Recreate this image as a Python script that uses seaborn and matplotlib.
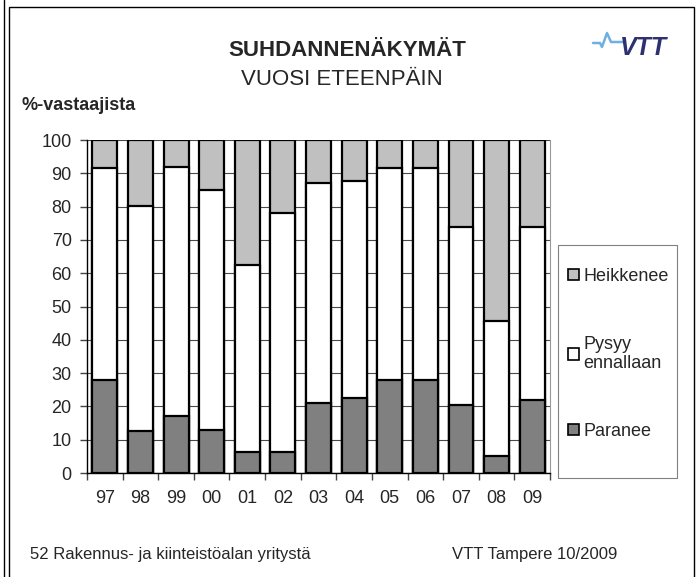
import matplotlib
matplotlib.use("Agg")
import matplotlib.pyplot as plt
from matplotlib.patches import Patch, Rectangle
from matplotlib.lines import Line2D
import numpy as np
import pandas as pd
import seaborn as sns

# Vuosi, osuudet (% vastaajista)
years = ["97", "98", "99", "00", "01", "02", "03", "04", "05", "06", "07", "08", "09"]
paranee = [28.0, 12.5, 17.0, 13.0, 6.3, 6.2, 21.1, 22.4, 28.0, 28.0, 20.4, 5.0, 21.8]
pysyy = [63.6, 67.8, 74.8, 72.0, 56.2, 71.8, 66.1, 65.2, 63.6, 63.6, 53.5, 40.8, 52.1]
heikkenee = [8.4, 19.7, 8.2, 15.0, 37.5, 22.0, 12.8, 12.4, 8.4, 8.4, 26.1, 54.2, 26.1]
y_ticks = [0, 10, 20, 30, 40, 50, 60, 70, 80, 90, 100]

COL_PARANEE = "#808080"
COL_PYSYY = "#FFFFFF"
COL_HEIKKENEE = "#C0C0C0"

df = pd.DataFrame({"vuosi": years, "paranee": paranee,
                   "pysyy": pysyy, "heikkenee": heikkenee})
df["ala"] = df["paranee"]
df["keski"] = df["paranee"] + df["pysyy"]
df["yla"] = df["keski"] + df["heikkenee"]

sns.set_style("white")
plt.rcParams["font.family"] = ["Liberation Sans", "DejaVu Sans"]

fig = plt.figure(figsize=(6.99, 5.77), dpi=100)
ax = fig.add_axes([0.1245, 0.1802, 0.6624, 0.5771])

# Pinotut pylväät: piirretään kumulatiiviset summat päällekkäin
bar_kw = dict(width=0.7, edgecolor="black", linewidth=1.6, saturation=1, ax=ax)
sns.barplot(data=df, x="vuosi", y="yla", color=COL_HEIKKENEE, **bar_kw)
sns.barplot(data=df, x="vuosi", y="keski", color=COL_PYSYY, **bar_kw)
sns.barplot(data=df, x="vuosi", y="ala", color=COL_PARANEE, **bar_kw)

ax.set_xlim(-0.5, len(years) - 0.5)
ax.set_ylim(0, 100)
ax.set_yticks(y_ticks)
ax.set_xlabel("")
ax.set_ylabel("")
ax.set_axisbelow(True)
ax.yaxis.grid(True, color="#4a4a4a", linewidth=0.8)

ax.tick_params(axis="y", direction="out", length=5, width=1, color="#444444",
               pad=6, labelsize=13, left=True)
ax.set_xticks(np.arange(-0.5, len(years)), minor=True)
ax.tick_params(axis="x", which="minor", direction="out", length=5, width=1,
               color="#444444", bottom=True)
ax.tick_params(axis="x", which="major", length=0, pad=12, labelsize=13)

for side in ["left", "bottom"]:
    ax.spines[side].set_color("black")
    ax.spines[side].set_linewidth(1)
ax.spines["right"].set_color("#999999")
ax.spines["right"].set_linewidth(0.8)
ax.spines["top"].set_visible(False)

# Selite
handles = [
    Patch(facecolor=COL_HEIKKENEE, edgecolor="black", linewidth=1.2),
    Patch(facecolor=COL_PYSYY, edgecolor="black", linewidth=1.2),
    Patch(facecolor=COL_PARANEE, edgecolor="black", linewidth=1.2),
]
labels = ["Heikkenee", "Pysyy\nennallaan", "Paranee"]
fig.legend(handles, labels, loc="upper left", bbox_to_anchor=(559 / 699, 1 - 259 / 577),
           frameon=False, fontsize=13, handlelength=0.6, handleheight=0.6,
           handletextpad=0.25, labelspacing=2.8, borderpad=0)
fig.patches.append(Rectangle((558 / 699, 1 - 478 / 577), 119 / 699, 233 / 577,
                             transform=fig.transFigure, fill=False,
                             edgecolor="#808080", linewidth=0.8))

# Kehys
fig.patches.append(Rectangle((9 / 699, -0.01), 685 / 699, 1 - 7 / 577 + 0.01,
                             transform=fig.transFigure, fill=False,
                             edgecolor="black", linewidth=1))
fig.lines.append(Line2D([4 / 699, 4 / 699], [0, 1], transform=fig.transFigure,
                        color="black", linewidth=1))

# Otsikot
fig.text(347 / 699, 1 - 50 / 577, "SUHDANNENÄKYMÄT", ha="center", va="center",
         fontsize=16, fontweight="bold")
fig.text(342 / 699, 1 - 80 / 577, "VUOSI ETEENPÄIN", ha="center", va="center",
         fontsize=16)
fig.text(21 / 699, 1 - 106 / 577, "%-vastaajista", ha="left", va="center",
         fontsize=13, fontweight="bold")
fig.text(30 / 699, 1 - 555 / 577, "52 Rakennus- ja kiinteistöalan yritystä",
         ha="left", va="center", fontsize=12)
fig.text(452 / 699, 1 - 555 / 577, "VTT Tampere 10/2009", ha="left", va="center",
         fontsize=12)

# VTT-logo
px = np.array([593, 600, 602, 607, 611, 625])
py = np.array([43, 43, 47, 33, 42, 42])
fig.lines.append(Line2D(px / 699, 1 - py / 577, transform=fig.transFigure,
                        color="#6fb0e0", linewidth=1.8))
fig.text(643 / 699, 1 - 48 / 577, "VTT", ha="center", va="center", fontsize=18,
         fontweight="heavy", fontstyle="italic", color="#2e3170")

fig.savefig("out.png", dpi=100, facecolor="white")
